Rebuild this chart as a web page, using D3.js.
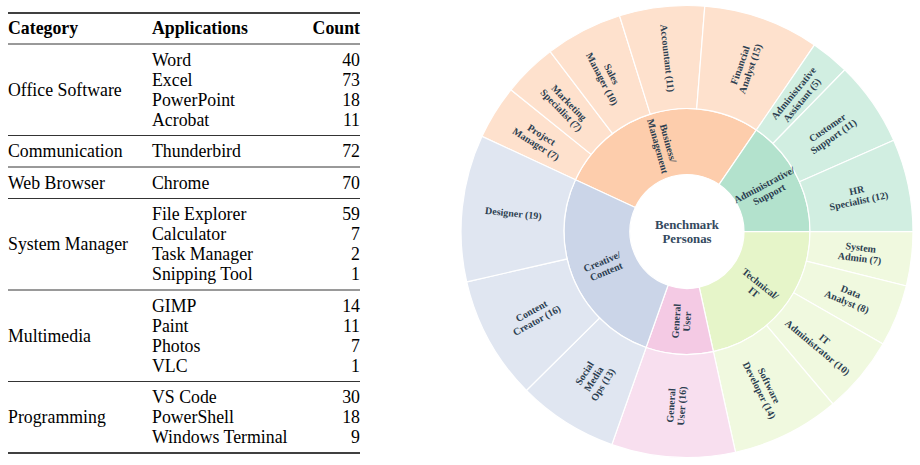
<!DOCTYPE html>
<html>
<head>
<meta charset="utf-8">
<script src="https://cdn.jsdelivr.net/npm/d3@7"></script>
<style>
  body { margin: 0; background: #fff; }
  svg { display: block; }
</style>
</head>
<body>
<div id="app"></div>
<script>
'use strict'

// table data
const headers = ['Category', 'Applications', 'Count']
const categories = ['Office Software', 'Communication', 'Web Browser', 'System Manager', 'Multimedia', 'Programming']
const applications = [
  ['Word', 'Excel', 'PowerPoint', 'Acrobat'],
  ['Thunderbird'],
  ['Chrome'],
  ['File Explorer', 'Calculator', 'Task Manager', 'Snipping Tool'],
  ['GIMP', 'Paint', 'Photos', 'VLC'],
  ['VS Code', 'PowerShell', 'Windows Terminal']
]
const appCounts = [[40, 73, 18, 11], [72], [70], [59, 7, 2, 1], [14, 11, 7, 1], [30, 18, 9]]

// sunburst data
const centerLabel = ['Benchmark', 'Personas']
const personaGroups = ['Business/Management', 'Administrative/Support', 'Technical/IT', 'General User', 'Creative/Content']
const personas = [
  ['Project Manager', 'Marketing Specialist', 'Sales Manager', 'Accountant', 'Financial Analyst'],
  ['Administrative Assistant', 'Customer Support', 'HR Specialist'],
  ['System Admin', 'Data Analyst', 'IT Administrator', 'Software Developer'],
  ['General User'],
  ['Social Media Ops', 'Content Creator', 'Designer']
]
const personaCounts = [[7, 7, 10, 11, 15], [5, 11, 12], [7, 8, 10, 14], [16], [13, 16, 19]]
const groupColors = ['#fdcdac', '#b3e2cd', '#e6f5c9', '#f4cae4', '#cbd5e8']

const svg = d3.select('#app').append('svg')
  .attr('width', 920)
  .attr('height', 465)

/*
 * Table on the left
 */
const serif = '"Liberation Serif", "Times New Roman", serif'
const table = svg.append('g')
  .attr('font-family', serif)
  .attr('font-size', 17.8)
  .attr('fill', '#000')

const col = { cat: 8, app: 152, count: 360 }
const rowH = 20
const pad = 15.75

const rule = (y, w) => table.append('line')
  .attr('x1', col.cat).attr('x2', col.count)
  .attr('y1', y).attr('y2', y)
  .attr('stroke', '#000')
  .attr('stroke-width', w)

rule(13, 1.5)
const head = table.append('g').attr('font-weight', 'bold')
head.append('text').attr('x', col.cat).attr('y', 28).attr('dy', '0.33em').text(headers[0])
head.append('text').attr('x', col.app).attr('y', 28).attr('dy', '0.33em').text(headers[1])
head.append('text').attr('x', col.count).attr('y', 28).attr('dy', '0.33em')
  .attr('text-anchor', 'end').text(headers[2])
rule(44, 0.8)

let y = 44
categories.forEach((c, i) => {
  const apps = applications[i]
  const y0 = y + pad
  apps.forEach((a, j) => {
    table.append('text').attr('x', col.app).attr('y', y0 + j * rowH).attr('dy', '0.33em').text(a)
    table.append('text').attr('x', col.count).attr('y', y0 + j * rowH).attr('dy', '0.33em')
      .attr('text-anchor', 'end').text(appCounts[i][j])
  })
  table.append('text')
    .attr('x', col.cat)
    .attr('y', y0 + (apps.length - 1) * rowH / 2)
    .attr('dy', '0.33em')
    .text(c)
  y = y0 + (apps.length - 1) * rowH + pad
  rule(y, i === categories.length - 1 ? 1.5 : 0.8)
})

/*
 * Sunburst on the right
 */
const cx = 687
const cy = 231.5
const rotation = -65.1 * Math.PI / 180

const root = d3.hierarchy({
  name: centerLabel.join(' '),
  children: personaGroups.map((g, i) => ({
    name: g,
    group: i,
    children: personas[i].map((p, j) => ({ name: p, group: i, value: personaCounts[i][j] }))
  }))
}).sum(d => d.value || 0)

d3.partition().size([2 * Math.PI, 3])(root)

const radius = d3.scaleLinear().domain([1, 2, 3]).range([57, 123, 226])

const arc = d3.arc()
  .startAngle(d => d.x0 + rotation)
  .endAngle(d => d.x1 + rotation)
  .innerRadius(d => radius(d.y0))
  .outerRadius(d => radius(d.y1))

const chart = svg.append('g').attr('transform', `translate(${cx}, ${cy})`)
const nodes = root.descendants().filter(d => d.depth > 0)

chart.selectAll('path')
  .data(nodes)
  .enter()
  .append('path')
  .attr('d', arc)
  .style('fill', d => groupColors[d.data.group])
  .style('fill-opacity', d => d.depth === 2 ? 0.6 : 1)
  .style('stroke', '#fff')
  .style('stroke-width', 1.2)

// labels are written along the radius
const labelLines = d => {
  if (d.depth === 1) return d.data.name.split(/(?<=\/)|\s+/)
  const words = d.data.name.split(' ')
  words[words.length - 1] += ` (${d.value})`
  return words
}

const lineH = 10.8
const labels = chart.selectAll('text.label')
  .data(nodes)
  .enter()
  .append('text')
  .attr('class', 'label')
  .attr('font-family', serif)
  .attr('font-weight', 'bold')
  .attr('font-size', 10)
  .attr('fill', '#2c3e50')
  .attr('text-anchor', 'middle')
  .attr('transform', d => {
    const a = (d.x0 + d.x1) / 2 + rotation
    const r = (radius(d.y0) + radius(d.y1)) / 2
    let deg = (a * 180 / Math.PI) % 360
    if (deg < 0) deg += 360
    const rot = deg < 180 ? deg - 90 : deg - 270
    return `translate(${r * Math.sin(a)}, ${-r * Math.cos(a)}) rotate(${rot})`
  })

labels.each(function (d) {
  const lines = labelLines(d)
  const t = d3.select(this)
  lines.forEach((l, i) => {
    t.append('tspan')
      .attr('x', 0)
      .attr('y', (i - (lines.length - 1) / 2) * lineH)
      .attr('dy', '0.35em')
      .text(l)
  })
})

const center = chart.append('text')
  .attr('font-family', serif)
  .attr('font-weight', 'bold')
  .attr('font-size', 12.8)
  .attr('fill', '#34495e')
  .attr('text-anchor', 'middle')

centerLabel.forEach((l, i) => {
  center.append('tspan')
    .attr('x', 0)
    .attr('y', (i - 0.5) * 14.5)
    .attr('dy', '0.35em')
    .text(l)
})
</script>
</body>
</html>
